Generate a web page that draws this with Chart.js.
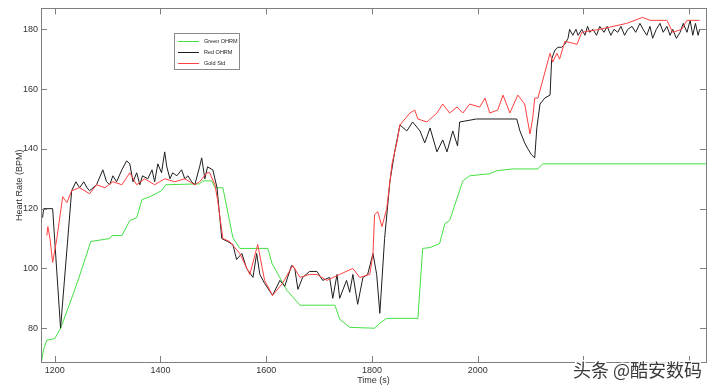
<!DOCTYPE html>
<html>
<head>
<meta charset="utf-8">
<script src="https://cdn.jsdelivr.net/npm/chart.js@4/dist/chart.umd.min.js"></script>
<style>
  body { margin: 0; background: #fff; }
</style>
</head>
<body>
<canvas id="hrchart" width="720" height="392"></canvas>
<script>
// tick values
var xTickValues = [1200, 1400, 1600, 1800, 2000, 2200, 2400];
var yTickValues = [80, 100, 120, 140, 160, 180];

// Green OHRM
var greenTime = [1174, 1179, 1185, 1200, 1211, 1228, 1244, 1259, 1268, 1304, 1308, 1327, 1342, 1355, 1365, 1380, 1402, 1410, 1474, 1480, 1497, 1503, 1518, 1537, 1550, 1603, 1611, 1639, 1664, 1730, 1739, 1758, 1805, 1815, 1828, 1887, 1896, 1910, 1928, 1938, 1947, 1972, 1985, 2023, 2036, 2067, 2114, 2123, 2432];
var greenHR = [68, 73, 76, 76.5, 80, 88, 96, 104, 109, 110, 111, 111, 116, 117, 123, 124, 126, 128, 128.3, 129.3, 129.3, 127, 127, 110.3, 106.7, 106.7, 101.7, 92.7, 87.7, 87.7, 83, 80.3, 80, 81.7, 83.3, 83.3, 106.7, 107, 108.3, 115, 116, 129.3, 131, 131.7, 132.7, 133.3, 133.3, 135, 135];

// Red OHRM (black line)
var redTime = [1177, 1179, 1196, 1211, 1232, 1240, 1247, 1255, 1261, 1266, 1279, 1291, 1298, 1304, 1310, 1317, 1327, 1336, 1342, 1348, 1355, 1361, 1366, 1376, 1384, 1389, 1395, 1402, 1408, 1412, 1418, 1423, 1431, 1440, 1446, 1452, 1459, 1465, 1474, 1478, 1484, 1489, 1499, 1507, 1516, 1527, 1537, 1544, 1554, 1563, 1575, 1582, 1588, 1597, 1612, 1626, 1635, 1648, 1654, 1660, 1669, 1682, 1696, 1707, 1720, 1726, 1734, 1739, 1752, 1758, 1764, 1773, 1783, 1792, 1802, 1809, 1815, 1824, 1834, 1843, 1853, 1866, 1877, 1891, 1900, 1910, 1923, 1934, 1942, 1953, 1962, 1966, 1998, 2074, 2080, 2089, 2095, 2102, 2108, 2112, 2118, 2127, 2137, 2140, 2146, 2152, 2159, 2165, 2171, 2174, 2180, 2186, 2190, 2197, 2203, 2208, 2212, 2218, 2225, 2231, 2239, 2245, 2252, 2258, 2265, 2271, 2278, 2284, 2292, 2299, 2307, 2313, 2320, 2326, 2331, 2338, 2345, 2351, 2358, 2364, 2369, 2376, 2383, 2389, 2396, 2402, 2407, 2412, 2417, 2420];
var redHR = [117, 120, 120, 80, 126, 129, 127, 129, 127, 126, 128, 133, 129, 128, 131, 129, 133, 136, 135, 129, 132, 128, 131, 130, 133, 129, 135, 132, 139, 134, 130, 132, 131, 133, 130, 131, 129, 128, 134, 137, 130, 134, 133, 127, 110, 109, 108, 103, 105, 100, 97, 105, 98, 95, 91, 96, 94, 101, 100, 93, 97, 99, 99, 96, 97, 90, 98, 90, 96, 92, 98, 88, 97, 98, 105, 98, 85, 110, 129, 139, 148, 146, 149, 146, 142, 147, 139, 143, 139, 146, 141, 149, 150, 150, 146, 142, 140, 138, 137, 147, 155, 157, 158, 170, 173, 174, 174, 175, 177, 180, 178, 180, 178, 180, 178, 181, 179, 180, 178, 181, 179, 181, 178, 180, 179, 181, 178, 180, 181, 179, 182, 180, 178, 181, 177, 180, 182, 179, 181, 178, 180, 177, 179, 182, 179, 183, 178, 182, 178, 180];

// Gold Std (red line)
var goldTime = [1185, 1187, 1191, 1196, 1204, 1215, 1223, 1232, 1247, 1266, 1279, 1295, 1310, 1327, 1342, 1355, 1370, 1389, 1408, 1427, 1446, 1465, 1474, 1488, 1493, 1503, 1508, 1518, 1531, 1550, 1569, 1584, 1597, 1612, 1631, 1650, 1664, 1682, 1696, 1715, 1739, 1764, 1777, 1796, 1802, 1805, 1811, 1819, 1828, 1838, 1847, 1853, 1872, 1881, 1887, 1904, 1923, 1934, 1947, 1961, 1972, 1985, 2004, 2014, 2023, 2038, 2048, 2061, 2076, 2089, 2099, 2104, 2108, 2114, 2137, 2142, 2150, 2155, 2165, 2188, 2197, 2231, 2282, 2312, 2326, 2358, 2369, 2386, 2396, 2420];
var goldHR = [111, 114, 110, 102, 110, 124, 122, 126, 127, 125, 128, 127, 129, 128, 132, 128, 130, 128, 130, 129, 130, 128, 129, 132, 132, 128, 123, 110, 109, 105, 98, 108, 96, 91, 95, 101, 97, 98, 98, 96, 98, 100, 97, 98, 105, 118, 119, 114, 120, 135, 142, 148, 152, 153, 150, 149, 152, 155, 152, 154, 152, 155, 154, 157, 152, 153, 158, 152, 158, 155, 145, 150, 157, 157, 172, 169, 172, 170, 176, 175, 179, 180, 182, 184, 183, 183, 179, 180, 183, 183];

function toPoints(t, v) {
    return t.map(function (x, i) { return { x: x, y: v[i] }; });
}

var axisFont = { family: "'Liberation Sans', Arial, sans-serif", size: 9 };
var axisColor = '#333';

// box, inward ticks, legend, watermark
var matlabLook = {
    id: 'matlabLook',
    afterDatasetsDraw: function (chart) {
        var ctx = chart.ctx;
        var a = chart.chartArea;
        var xs = chart.scales.x, ys = chart.scales.y;
        ctx.save();
        ctx.strokeStyle = '#7f7f7f';
        ctx.lineWidth = 1;
        ctx.strokeRect(Math.round(a.left) + 0.5, Math.round(a.top) + 0.5, Math.round(a.right - a.left), Math.round(a.bottom - a.top));
        ctx.beginPath();
        xTickValues.forEach(function (v) {
            var px = Math.round(xs.getPixelForValue(v)) + 0.5;
            ctx.moveTo(px, a.bottom); ctx.lineTo(px, a.bottom - 6);
            ctx.moveTo(px, a.top); ctx.lineTo(px, a.top + 6);
        });
        yTickValues.forEach(function (v) {
            var py = Math.round(ys.getPixelForValue(v)) + 0.5;
            ctx.moveTo(a.left, py); ctx.lineTo(a.left + 6, py);
            ctx.moveTo(a.right, py); ctx.lineTo(a.right - 6, py);
        });
        ctx.stroke();

        // legend
        ctx.fillStyle = '#fff';
        ctx.fillRect(174, 33, 65, 36);
        ctx.strokeStyle = '#8a8a8a';
        ctx.strokeRect(174.5, 33.5, 65, 36);
        ctx.font = "5.5px 'Liberation Sans', Arial, sans-serif";
        ctx.textBaseline = 'middle';
        var rows = [41, 52, 63];
        chart.data.datasets.forEach(function (ds, i) {
            ctx.strokeStyle = ds.borderColor;
            ctx.beginPath();
            ctx.moveTo(178, rows[i] + 0.5);
            ctx.lineTo(199, rows[i] + 0.5);
            ctx.stroke();
            ctx.fillStyle = '#222';
            ctx.fillText(ds.label, 204, rows[i] + 0.5);
        });
        ctx.restore();
    },
    afterDraw: function (chart) {
        var ctx = chart.ctx;
        ctx.save();
        ctx.fillStyle = '#fff';
        ctx.fillRect(571, 363, 142, 20);
        ctx.font = "18px 'Noto Sans CJK SC', sans-serif";
        ctx.textBaseline = 'alphabetic';
        ctx.lineWidth = 3;
        ctx.strokeStyle = '#fff';
        ctx.strokeText('头条 @酷安数码', 573, 377);
        ctx.fillStyle = '#3a3a3a';
        ctx.fillText('头条 @酷安数码', 573, 377);
        ctx.restore();
    }
};

var hrChart = new Chart(document.getElementById('hrchart'), {
    type: 'line',
    data: {
        datasets: [{
            label: 'Green OHRM',
            data: toPoints(greenTime, greenHR),
            borderColor: '#44e044',
            borderWidth: 1,
            order: 3
        }, {
            label: 'Red OHRM',
            data: toPoints(redTime, redHR),
            borderColor: '#1e1e1e',
            borderWidth: 1,
            order: 2
        }, {
            label: 'Gold Std',
            data: toPoints(goldTime, goldHR),
            borderColor: '#ff4040',
            borderWidth: 1,
            order: 1
        }]
    },
    options: {
        responsive: false,
        animation: false,
        parsing: false,
        elements: {
            point: { radius: 0 },
            line: { tension: 0 }
        },
        layout: { padding: { top: 7, right: 14, left: 0, bottom: 0 } },
        plugins: {
            legend: { display: false },
            tooltip: { enabled: false }
        },
        scales: {
            x: {
                type: 'linear',
                min: 1174,
                max: 2432,
                grid: { display: false, drawTicks: false },
                border: { display: false },
                afterBuildTicks: function (s) {
                    s.ticks = xTickValues.map(function (v) { return { value: v }; });
                },
                afterFit: function (s) { s.height = 30; },
                ticks: {
                    font: axisFont,
                    color: axisColor,
                    padding: 3,
                    maxRotation: 0,
                    autoSkip: false,
                    callback: function (v) { return String(v); }
                },
                title: {
                    display: true,
                    text: 'Time (s)',
                    font: axisFont,
                    color: axisColor,
                    padding: { top: 0, bottom: 6 }
                }
            },
            y: {
                min: 68.7,
                max: 187,
                grid: { display: false, drawTicks: false },
                border: { display: false },
                afterBuildTicks: function (s) {
                    s.ticks = yTickValues.map(function (v) { return { value: v }; });
                },
                afterFit: function (s) { s.width = 41; },
                ticks: {
                    font: axisFont,
                    color: axisColor,
                    padding: 3,
                    callback: function (v) { return String(v); }
                },
                title: {
                    display: true,
                    text: 'Heart Rate (BPM)',
                    font: axisFont,
                    color: axisColor,
                    padding: { top: 14, bottom: 0 }
                }
            }
        }
    },
    plugins: [matlabLook]
});
</script>
</body>
</html>
